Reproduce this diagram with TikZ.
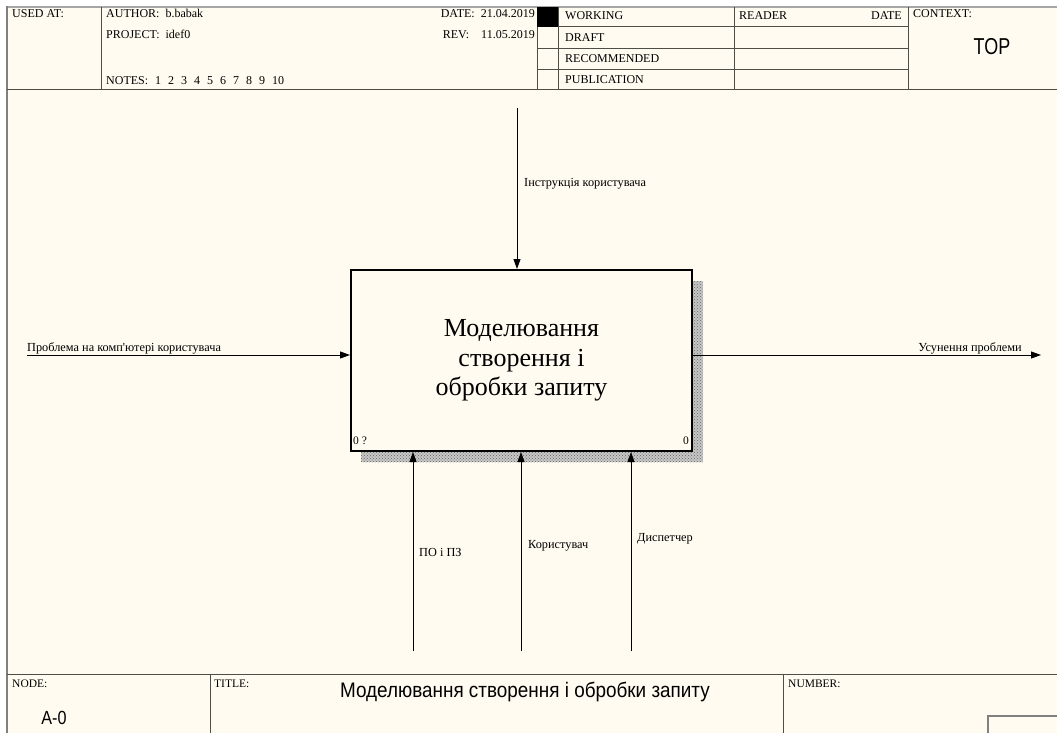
\documentclass[tikz,border=0pt]{standalone}
\usepackage{fontspec}
\setmainfont{Liberation Serif}
\setsansfont{Liberation Sans}
% same serif without TeX ligature mapping, for a straight apostrophe
\newfontfamily\rawserif{Liberation Serif}
\usetikzlibrary{arrows.meta,patterns}
\definecolor{paper}{RGB}{255,251,240}
\definecolor{rule}{RGB}{78,78,70}
\definecolor{frameline}{RGB}{128,128,128}
\newcommand{\nsp}{\hskip 7pt}
\tikzset{
  hdr/.style={font=\fontsize{12}{13}\selectfont, inner sep=0pt, anchor=base west},
  lbl/.style={font=\fontsize{12.3}{13}\selectfont, inner sep=0pt, anchor=base west},
  tiny/.style={font=\fontsize{11.5}{12}\selectfont, inner sep=0pt, anchor=base west},
  grid/.style={draw=rule, line width=1pt},
  flow/.style={draw=black, line width=0.9pt, -{Triangle[length=10pt,width=7pt]}},
  actbox/.style={draw=black, line width=2pt, fill=paper, minimum width=341pt, minimum height=181pt, inner sep=0pt,
     align=center, font=\fontsize{26}{29.5}\selectfont},
  bigsans/.style={font=\sffamily\fontsize{#1}{#1}\selectfont, inner sep=0pt}
}
\begin{document}
\begin{tikzpicture}[x=1pt,y=-1pt]
\useasboundingbox (0,0) rectangle (1057,733);
\fill[white] (0,0) rectangle (1057,733);
\fill[paper] (7,7) rectangle (1057,733);

% outer frame
\draw[draw=frameline!70, line width=2pt] (7,7) -- (1057,7);
\draw[draw=frameline, line width=2.5pt] (7,6) -- (7,733);

% header grid
\draw[grid] (7,90) -- (1057,90);
\draw[grid] (101,7) -- (101,90);
\draw[grid] (537,7) -- (537,90);
\draw[grid] (558,7) -- (558,90);
\draw[grid] (734,7) -- (734,90);
\draw[grid] (908,7) -- (908,90);
\draw[grid] (537,27) -- (908,27);
\draw[grid] (537,49) -- (908,49);
\draw[grid] (537,70) -- (908,70);
\fill[black] (537,7) rectangle (558,27);

% header texts
\node[hdr] (usedat) at (12,18) {USED AT:};
\node[hdr] (author) at (106,18) {AUTHOR:\ \ b.babak};
\node[hdr] (project) at (106,39) {PROJECT:\ \ idef0};
\node[hdr] (notes) at (106,85) {NOTES:\nsp 1\nsp 2\nsp 3\nsp 4\nsp 5\nsp 6\nsp 7\nsp 8\nsp 9\nsp 10};
\node[hdr, anchor=base east] (date) at (535,18) {DATE:\ \ 21.04.2019};
\node[hdr, anchor=base east] (rev) at (535,39) {REV:\ \ \ \ 11.05.2019};
\node[hdr] (working) at (565,20) {WORKING};
\node[hdr] (draft) at (565,42) {DRAFT};
\node[hdr] (recommended) at (565,63) {RECOMMENDED};
\node[hdr] (publication) at (565,84) {PUBLICATION};
\node[hdr] (reader) at (739,20) {READER};
\node[hdr, anchor=base east] (rdate) at (902,20) {DATE};
\node[hdr] (context) at (913,18) {CONTEXT:};
\node[bigsans=23, xscale=0.78] (top) at (992,47) {TOP};

% activity box with its shadow
\fill[gray!45] (361,281) rectangle (703,462);
\fill[pattern=crosshatch dots, pattern color=black!60] (361,281) rectangle (703,462);
\node[actbox] (fn) at (521.5,360.5) {Моделювання\\створення і\\обробки запиту};
\node[tiny] (num) at (353,444) {0 ?};
\node[tiny, anchor=base east] (cost) at (689,444) {0};

% input
\coordinate (in) at (27,355);
\draw[flow] (in) -- (in -| fn.west);
\node[lbl] (inlbl) at (27,351) {Проблема на комп{\rawserif '}ютері користувача};

% output
\coordinate (out) at (1041,355);
\draw[flow] (out -| fn.east) -- (out);
\node[lbl, anchor=base east] (outlbl) at (1022,351) {Усунення проблеми};

% control
\coordinate (ctl) at (517,108);
\draw[flow] (ctl) -- (ctl |- fn.north);
\node[lbl] (ctllbl) at (524,186) {Інструкція користувача};

% mechanisms
\coordinate (m1) at (413,651);
\coordinate (m2) at (521,651);
\coordinate (m3) at (631,651);
\draw[flow] (m1) -- (m1 |- fn.south);
\draw[flow] (m2) -- (m2 |- fn.south);
\draw[flow] (m3) -- (m3 |- fn.south);
\node[lbl] (m1lbl) at (419,556) {ПО і ПЗ};
\node[lbl] (m2lbl) at (528,548) {Користувач};
\node[lbl] (m3lbl) at (637,541) {Диспетчер};

% footer
\draw[grid] (7,674) -- (1057,674);
\draw[grid] (210,674) -- (210,733);
\draw[grid] (783,674) -- (783,733);
\draw[draw=frameline, line width=1.5pt] (988,733) -- (988,716) -- (1057,716);
\node[tiny] (nodelbl) at (12,687) {NODE:};
\node[tiny] (titlelbl) at (214,687) {TITLE:};
\node[tiny] (numberlbl) at (788,687) {NUMBER:};
\node[bigsans=21, xscale=0.9] (title) at (525,692) {Моделювання створення і обробки запиту};
\node[bigsans=19, xscale=0.85] (nodeid) at (54,718) {A-0};
\end{tikzpicture}
\end{document}
